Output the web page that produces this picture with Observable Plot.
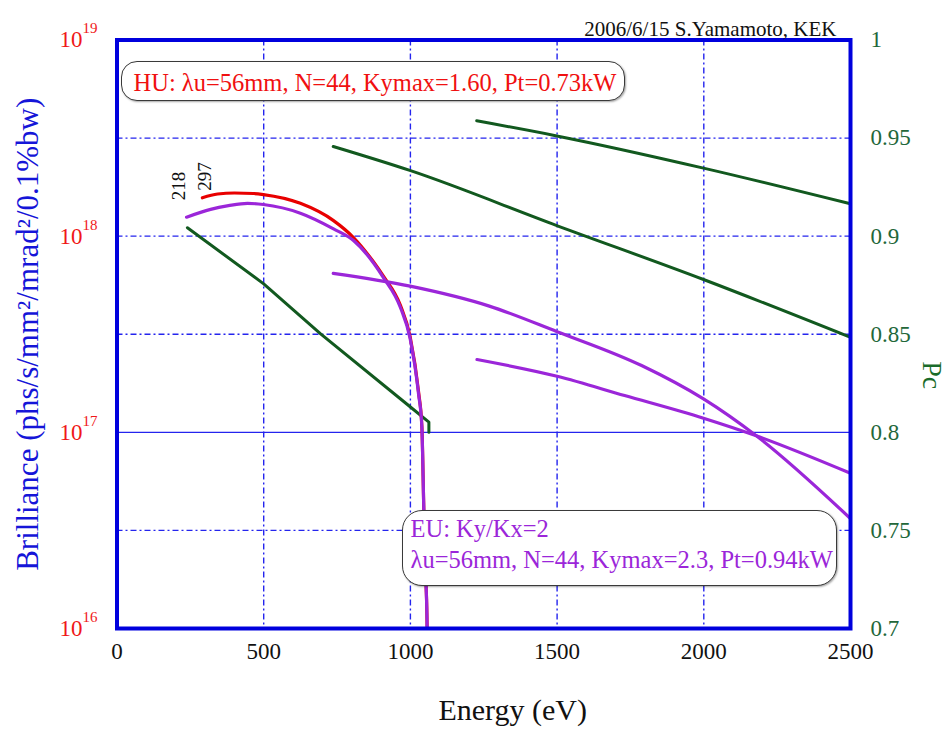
<!DOCTYPE html>
<html>
<head>
<meta charset="utf-8">
<script src="https://cdn.jsdelivr.net/npm/d3@7"></script>
<script src="https://cdn.jsdelivr.net/npm/@observablehq/plot@0.6"></script>
<style>
  body { margin: 0; background: #fff; }
  #wrap { position: relative; width: 946px; height: 735px; font-family: "Liberation Serif", "Times New Roman", serif; }
  #wrap svg { position: absolute; left: 0; top: 0; }
  .box { position: absolute; background: #fff; border: 1.5px solid #3a3a3a; box-sizing: border-box;
         box-shadow: 1px 1px 2px rgba(0,0,0,0.35); font-size: 24.5px; white-space: nowrap; }
  #hu { left: 121px; top: 61px; width: 504px; height: 40px; border-radius: 16px; color: #f01010;
        padding-left: 11.5px; padding-top: 2px; line-height: 38px; }
  #eu { left: 402px; top: 510px; width: 435px; height: 76px; border-radius: 20px; color: #9b26d9;
        padding-left: 7.5px; padding-top: 1.5px; line-height: 31px; }
</style>
</head>
<body>
<div id="wrap">
  <div class="box" id="hu"></div>
  <div class="box" id="eu"></div>
</div>
<script>
// ---------- data ----------
const xTicks = [0, 500, 1000, 1500, 2000, 2500];
const gridE = [500, 1000, 1500, 2000];
const decades = [1e16, 1e17, 1e18, 1e19];
const pcTicks = [0.7, 0.75, 0.8, 0.85, 0.9, 0.95, 1];
const pcGridDashed = [0.75, 0.85, 0.9, 0.95];
const pcGridSolid = [0.8];

// HU brilliance (red)
const huE = [291, 343, 400, 465, 499, 625, 738, 806, 874, 908, 966, 999, 1028, 1039, 1046, 1053, 1057, 1059];
const huB = [1.57e18, 1.64e18, 1.66e18, 1.65e18, 1.63e18, 1.47e18, 1.20e18, 9.84e17, 7.4e17, 6.25e17, 4.44e17, 3.08e17, 1.60e17, 1.08e17, 3.9e16, 1.75e16, 1.0e16, 5e15];
// EU (Ky/Kx=2) brilliance, three branches (purple)
const eu1E = [237, 319, 380, 445, 499, 625, 738, 806, 908, 966, 999, 1028, 1039, 1046, 1053, 1057, 1059];
const eu1B = [1.25e18, 1.37e18, 1.43e18, 1.47e18, 1.45e18, 1.31e18, 1.09e18, 9.51e17, 6.15e17, 4.33e17, 3.01e17, 1.56e17, 1.07e17, 3.9e16, 1.75e16, 1.0e16, 5e15];
const eu2E = [737, 999, 1269, 1500, 1788, 1999, 2179, 2496];
const eu2B = [6.46e17, 5.56e17, 4.40e17, 3.26e17, 2.19e17, 1.48e17, 9.6e16, 3.68e16];
const eu3E = [1227, 1500, 1730, 1999, 2179, 2496];
const eu3B = [2.35e17, 1.93e17, 1.54e17, 1.18e17, 9.6e16, 6.22e16];
// Circular polarization Pc (green, right axis)
const pc1E = [240, 500, 694, 997, 1063, 1063];
const pc1 = [0.9043, 0.8757, 0.8502, 0.8133, 0.8052, 0.800];
const pc2E = [737, 998, 1499, 1999, 2497];
const pc2 = [0.9457, 0.9335, 0.9054, 0.8779, 0.8486];
const pc3E = [1226, 1499, 1999, 2497];
const pc3 = [0.9588, 0.9511, 0.9347, 0.9166];

const startLabels = ["218", "297"];
const huText = "HU: λu=56mm, N=44, Kymax=1.60, Pt=0.73kW";
const euText = ["EU: Ky/Kx=2", "λu=56mm, N=44, Kymax=2.3, Pt=0.94kW"];
const xLabel = "Energy (eV)";
const yLabel = "Brilliance (phs/s/mm²/mrad²/0.1%bw)";
const y2Label = "Pc";
const credit = "2006/6/15 S.Yamamoto, KEK";

// ---------- helpers ----------
// right axis Pc [0.7, 1] shares the plot with the log brilliance axis [1e16, 1e19]
const pcToB = pc => Math.pow(10, 16 + (pc - 0.7) * 10);
const bToPc = b => 0.7 + (Math.log10(b) - 16) / 10;
const zip = (E, V) => E.map((e, i) => ({E: e, V: V[i]}));

const RED = "#e80000", PURPLE = "#9b26d9", GREEN = "#12591f", GRID = "#2424ee", FRAME = "#0000dd";
const FONT = "'Liberation Serif', 'Times New Roman', serif";

const hu = zip(huE, huB), eu1 = zip(eu1E, eu1B), eu2 = zip(eu2E, eu2B), eu3 = zip(eu3E, eu3B);
const g1 = zip(pc1E, pc1), g2 = zip(pc2E, pc2), g3 = zip(pc3E, pc3);

const chart = Plot.plot({
  width: 946,
  height: 735,
  marginLeft: 116.5,
  marginRight: 96,
  marginTop: 39.5,
  marginBottom: 107,
  style: {fontFamily: FONT, fontSize: "23px", background: "transparent", overflow: "visible"},
  x: {domain: [0, 2500]},
  y: {type: "log", domain: [1e16, 1e19]},
  marks: [
    Plot.ruleX(gridE, {stroke: GRID, strokeWidth: 1.4, strokeDasharray: "6,3,2,3"}),
    Plot.ruleY(pcGridDashed.map(pcToB), {stroke: GRID, strokeWidth: 1.4, strokeDasharray: "6,3,2,3"}),
    Plot.ruleY(pcGridSolid.map(pcToB), {stroke: GRID, strokeWidth: 1.4}),
    Plot.line(g1, {x: "E", y: d => pcToB(d.V), stroke: GREEN, strokeWidth: 3, clip: true}),
    Plot.line(g2, {x: "E", y: d => pcToB(d.V), stroke: GREEN, strokeWidth: 3, curve: "monotone-x", clip: true}),
    Plot.line(g3, {x: "E", y: d => pcToB(d.V), stroke: GREEN, strokeWidth: 3, curve: "monotone-x", clip: true}),
    Plot.line(hu, {x: "E", y: "V", stroke: RED, strokeWidth: 3.2, curve: "monotone-x", clip: true}),
    Plot.line(eu1, {x: "E", y: "V", stroke: PURPLE, strokeWidth: 3.2, curve: "monotone-x", clip: true}),
    Plot.line(eu2, {x: "E", y: "V", stroke: PURPLE, strokeWidth: 3.2, curve: "monotone-x", clip: true}),
    Plot.line(eu3, {x: "E", y: "V", stroke: PURPLE, strokeWidth: 3.2, curve: "monotone-x", clip: true}),
    Plot.frame({stroke: FRAME, strokeWidth: 4}),
    Plot.axisX(xTicks, {tickSize: 0, tickPadding: 14, fontSize: 23, color: "#111", label: null,
      tickFormat: d => String(d)}),
    Plot.axisY(decades, {anchor: "left", tickSize: 0, tickPadding: 19.5, fontSize: 23, color: "#f01818",
      tickFormat: d => "10|" + Math.round(Math.log10(d)), label: null}),
    Plot.axisY(pcTicks.map(pcToB), {anchor: "right", tickSize: 0, tickPadding: 20, fontSize: 23, color: "#23673a",
      tickFormat: d => String(Math.round(bToPc(d) * 100) / 100), label: null}),
    // start energies of the first harmonics
    Plot.text([eu1[0]], {x: "E", y: "V", text: () => startLabels[0], rotate: -90, textAnchor: "start",
      dx: -8, dy: -17, fontSize: 19, fill: "#111"}),
    Plot.text([hu[0]], {x: "E", y: "V", text: () => startLabels[1], rotate: -90, textAnchor: "start",
      dx: 3, dy: -7, fontSize: 19, fill: "#111"}),
    // axis titles and credit
    Plot.text([xLabel], {frameAnchor: "bottom", textAnchor: "middle", dx: 29, dy: 91, fontSize: 30, fill: "#111"}),
    Plot.text([yLabel], {frameAnchor: "left", textAnchor: "middle", rotate: -90, dx: -89, fontSize: 31, fill: "#1515d8"}),
    Plot.text([y2Label], {frameAnchor: "right", textAnchor: "middle", rotate: 90, dx: 81, dy: 41, fontSize: 28, fill: "#1a6b2a"}),
    Plot.text([credit], {frameAnchor: "top-right", textAnchor: "end", dx: -14, dy: -19, fontSize: 21, fill: "#111"})
  ]
});

document.getElementById("wrap").prepend(chart);

// superscript exponents on the brilliance axis
d3.select(chart).selectAll("text").each(function () {
  const t = this.textContent;
  if (/^10\|\d+$/.test(t)) {
    const [base, exp] = t.split("|");
    const s = d3.select(this);
    s.text(base);
    s.append("tspan").attr("dy", -14).attr("font-size", 15).text(exp);
  }
});

document.getElementById("hu").textContent = huText;
const eu = document.getElementById("eu");
euText.forEach(line => { const div = document.createElement("div"); div.textContent = line; eu.appendChild(div); });
</script>
</body>
</html>
